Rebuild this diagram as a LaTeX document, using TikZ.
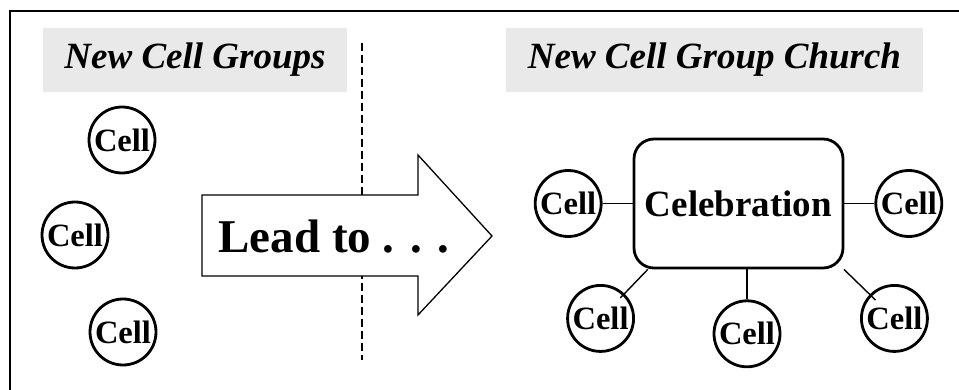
\documentclass[tikz,border=0pt]{standalone}
\usepackage{fontspec}
\setmainfont{Liberation Serif}
\usepackage{tikz}
\usetikzlibrary{positioning}
\definecolor{titlegray}{HTML}{E9E9E9}

\tikzset{
  cell/.style = { draw, circle, line width = 2.8pt, minimum size = 66pt, inner sep = 0pt,
                  font = \fontsize{32.5}{32.5}\selectfont\bfseries },
  title/.style = { fill = titlegray, minimum height = 64pt, inner sep = 0pt,
                   font = \fontsize{37}{37}\selectfont\bfseries\itshape },
  link/.style = { line width = 1.4pt }
}

\begin{document}
\begin{tikzpicture}[x = 1pt, y = -1pt]
    \useasboundingbox (0,0) rectangle (959,390);
    % frame
    \draw[line width = 2.8pt] (10,390) -- (10,11) -- (959,11);

    % titles
    \node[title, minimum width = 304pt] (oldtitle) at (195,60) { New Cell Groups };
    \node[title, minimum width = 417pt] (newtitle) at (714.5,60) { New Cell Group Church };

    % divider and arrow
    \draw[line width = 1.2pt, dash pattern = on 8pt off 4pt] (362,43) -- (362,360);
    \draw[line width = 1.3pt, fill = white]
      (202,195) -- (418,195) -- (418,155) -- (492,236) -- (418,315) -- (418,276) -- (202,276) -- cycle;
    \node[anchor = base, font = \fontsize{47}{47}\selectfont\bfseries] (lead) at (334,253) { Lead to . . . };

    % new cell groups
    \node[cell] (c1) at (122,140) { Cell };
    \node[cell] (c2) at (75,235) { Cell };
    \node[cell] (c3) at (123,332) { Cell };

    % cell group church
    \node[draw, line width = 2.8pt, rounded corners = 20pt, minimum width = 209pt, minimum height = 129pt,
          inner sep = 0pt, font = \fontsize{37}{37}\selectfont\bfseries] (cel) at (738.5,203.5) { Celebration };
    \node[cell, left = 30pt of cel] (cl) { Cell };
    \node[cell, right = 30pt of cel] (cr) { Cell };
    \node[cell, below = 30pt of cel, xshift = 8.5pt] (cb) { Cell };
    \node[cell, below left = 24.7pt and 7.7pt of cel] (cbl) { Cell };
    \node[cell, below right = 24.7pt and 25.7pt of cel] (cbr) { Cell };

    \draw[link] (cl) -- (cel);
    \draw[link] (cel) -- (cr);
    \draw[link] (cb |- cel.south) -- (cb);
    \draw[link, shorten >= -6pt] (cel.-144) -- (cbl);
    \draw[link, shorten >= -8pt] (cel.-32) -- (cbr);
\end{tikzpicture}
\end{document}
